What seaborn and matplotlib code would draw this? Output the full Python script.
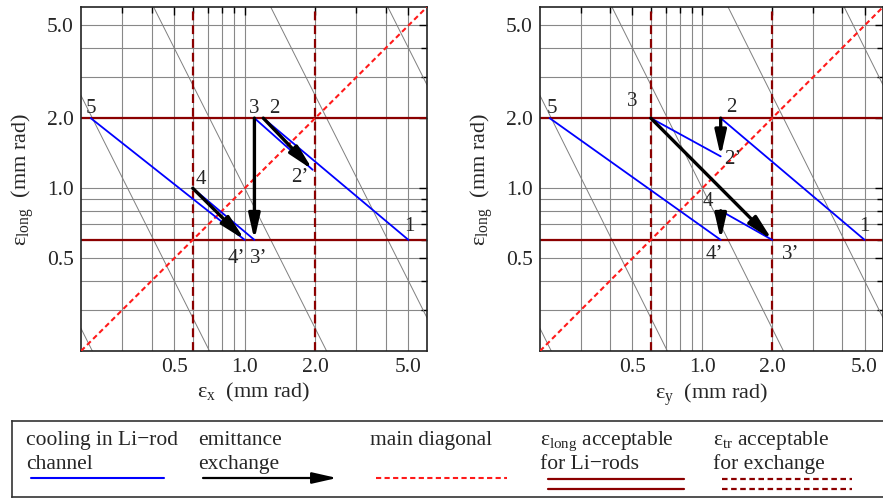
import matplotlib
matplotlib.use("Agg")
import matplotlib.pyplot as plt
from matplotlib.ticker import FixedLocator, NullFormatter, FixedFormatter
import seaborn as sns

sns.set_theme(style="white")
plt.rcParams["font.family"] = ["Liberation Serif", "DejaVu Serif"]
plt.rcParams["mathtext.fontset"] = "custom"
plt.rcParams["mathtext.rm"] = "Liberation Serif"
plt.rcParams["mathtext.it"] = "Liberation Serif:italic"
plt.rcParams["mathtext.default"] = "rm"

# ---- data -------------------------------------------------------------
axis_range = (0.2, 6.0)
major_ticks = [0.5, 1.0, 2.0, 5.0]
major_labels = ["0.5", "1.0", "2.0", "5.0"]
minor_ticks = [0.3, 0.4, 0.6, 0.7, 0.8, 0.9, 3.0, 4.0]

# constant 6D emittance: eps_long * eps_tr^2 = const
iso_products = [0.01, 0.1, 1.0, 10.0, 100.0]

long_acceptance = [0.6, 2.0]     # eps_long window of the Li-rod channel
tr_acceptance = [0.6, 2.0]       # eps_tr window of the exchange section

stages = ["1", "2", "2’", "3", "3’", "4", "4’", "5"]
eps_x = [5.0, 1.2, 1.95, 1.1, 1.1, 0.6, 1.0, 0.22]
eps_long_xplane = [0.6, 2.0, 1.2, 2.0, 0.6, 1.0, 0.6, 2.0]
eps_y = [5.0, 1.2, 1.2, 0.6, 2.0, 1.2, 1.2, 0.22]
eps_long_yplane = [0.6, 2.0, 1.37, 2.0, 0.6, 0.8, 0.6, 2.0]

cooling_steps = [(0, 1), (2, 3), (4, 5), (6, 7)]
exchange_steps = [(1, 2), (3, 4), (5, 6)]

# label offsets in pixels for each stage label (layout only)
offsets_x = {"1": (1, 13), "2": (11, 10), "2’": (-13, -8), "3": (0, 10),
             "3’": (4, -19), "4": (8, 9), "4’": (-8, -19), "5": (0, 10)}
offsets_y = {"1": (0, 13), "2": (11, 11), "2’": (12, -3), "3": (-19, 17),
             "3’": (18, -15), "4": (-13, 9), "4’": (-6, -15), "5": (2, 10)}

BLUE = "#0000ff"
DARKRED = "#8b0000"
RED = "#ff1a1a"
GRID = "#888888"
FS_TICK = 15.5
FS_LABEL = 16
FS_POINT = 15
FS_LEG = 15.5

fig = plt.figure(figsize=(8.83, 5.0), dpi=100)
W, H = 883.0, 500.0
ax_left = fig.add_axes([81 / W, 149 / H, 346 / W, 344 / H])
ax_right = fig.add_axes([540 / W, 149 / H, 343 / W, 344 / H])

arrow_style = "-|>,head_length=1.5,head_width=0.34"


def draw_panel(ax, xs, ys, xlabel, offsets):
    ax.set_xscale("log")
    ax.set_yscale("log")
    ax.set_xlim(*axis_range)
    ax.set_ylim(*axis_range)

    for a in (ax.xaxis, ax.yaxis):
        a.set_major_locator(FixedLocator(major_ticks))
        a.set_major_formatter(FixedFormatter(major_labels))
        a.set_minor_locator(FixedLocator(minor_ticks))
        a.set_minor_formatter(NullFormatter())
    ax.grid(True, which="both", color=GRID, lw=0.8, zorder=0)
    ax.set_axisbelow(True)
    ax.tick_params(which="both", direction="in", top=True, right=True,
                   color="black", labelsize=FS_TICK, width=1.0)
    ax.tick_params(which="major", length=6, pad=5)
    ax.tick_params(which="minor", length=4)
    for s in ax.spines.values():
        s.set_color("#222222")
        s.set_linewidth(1.2)

    # iso-emittance lines (straight in log-log)
    lo, hi = axis_range
    for c in iso_products:
        sns.lineplot(x=[lo, hi], y=[c / lo ** 2, c / hi ** 2], ax=ax,
                     color="#7f7f7f", lw=0.7, sort=False, estimator=None,
                     zorder=1)

    # acceptance windows
    for v in long_acceptance:
        ax.axhline(v, color=DARKRED, lw=1.6, zorder=2)
    for v in tr_acceptance:
        ax.axvline(v, color=DARKRED, lw=1.6, dashes=(4, 2.2), zorder=2)

    # main diagonal
    sns.lineplot(x=[lo, hi], y=[lo, hi], ax=ax, color=RED, lw=1.5,
                 sort=False, estimator=None, zorder=3)
    ax.lines[-1].set_dashes((2.5, 1.6))

    # cooling in the Li-rod channel
    for i, j in cooling_steps:
        sns.lineplot(x=[xs[i], xs[j]], y=[ys[i], ys[j]], ax=ax, color=BLUE,
                     lw=1.3, sort=False, estimator=None, zorder=4)

    # emittance exchange
    for i, j in exchange_steps:
        ax.annotate("", xy=(xs[j], ys[j]), xytext=(xs[i], ys[i]),
                    arrowprops=dict(arrowstyle=arrow_style, color="black",
                                    lw=2.4, mutation_scale=10,
                                    shrinkA=0, shrinkB=0), zorder=5)

    for name, x, y in zip(stages, xs, ys):
        dx, dy = offsets[name]
        ax.annotate(name, xy=(x, y), xytext=(dx * 0.72, dy * 0.72),
                    textcoords="offset points", ha="center", va="center",
                    fontsize=FS_POINT, zorder=6)

    ax.set_xlabel(xlabel, fontsize=FS_LABEL, labelpad=3)
    ax.set_ylabel("$ε_{long}$  (mm rad)", fontsize=FS_LABEL, labelpad=8)


draw_panel(ax_left, eps_x, eps_long_xplane, "$ε_{x}$  (mm rad)", offsets_x)
draw_panel(ax_right, eps_y, eps_long_yplane, "$ε_{y}$  (mm rad)", offsets_y)

# ---- legend box -------------------------------------------------------
lg = fig.add_axes([11.7 / W, 3 / H, (895 - 11.7) / W, 76 / H])
lg.set_xlim(11.7, 895)
lg.set_ylim(497, 421)
lg.set_xticks([])
lg.set_yticks([])
for s in lg.spines.values():
    s.set_color("#333333")
    s.set_linewidth(1.2)

entries = [
    (26, "cooling in Li−rod", "channel"),
    (198, "emittance", "exchange"),
    (370, "main diagonal", ""),
    (540, "$ε_{long}$ acceptable", "for Li−rods"),
    (713, "$ε_{tr}$ acceptable", "for exchange"),
]
for x0, l1, l2 in entries:
    lg.text(x0, 444.7, l1, fontsize=FS_LEG, va="baseline", ha="left")
    if l2:
        lg.text(x0, 468.7, l2, fontsize=FS_LEG, va="baseline", ha="left")

lg.plot([31, 164], [478, 478], color=BLUE, lw=1.5)
lg.annotate("", xy=(337, 478), xytext=(203, 478),
            arrowprops=dict(arrowstyle=arrow_style, color="black", lw=1.6,
                            mutation_scale=10, shrinkA=0, shrinkB=0))
lg.plot([376, 507], [478, 478], color=RED, lw=1.5, dashes=(2.5, 1.6))
for yy in (479, 489):
    lg.plot([548, 684], [yy, yy], color=DARKRED, lw=1.6)
    lg.plot([722, 852], [yy, yy], color=DARKRED, lw=1.6, dashes=(2.5, 1.6))

fig.savefig("out.png", dpi=100)
